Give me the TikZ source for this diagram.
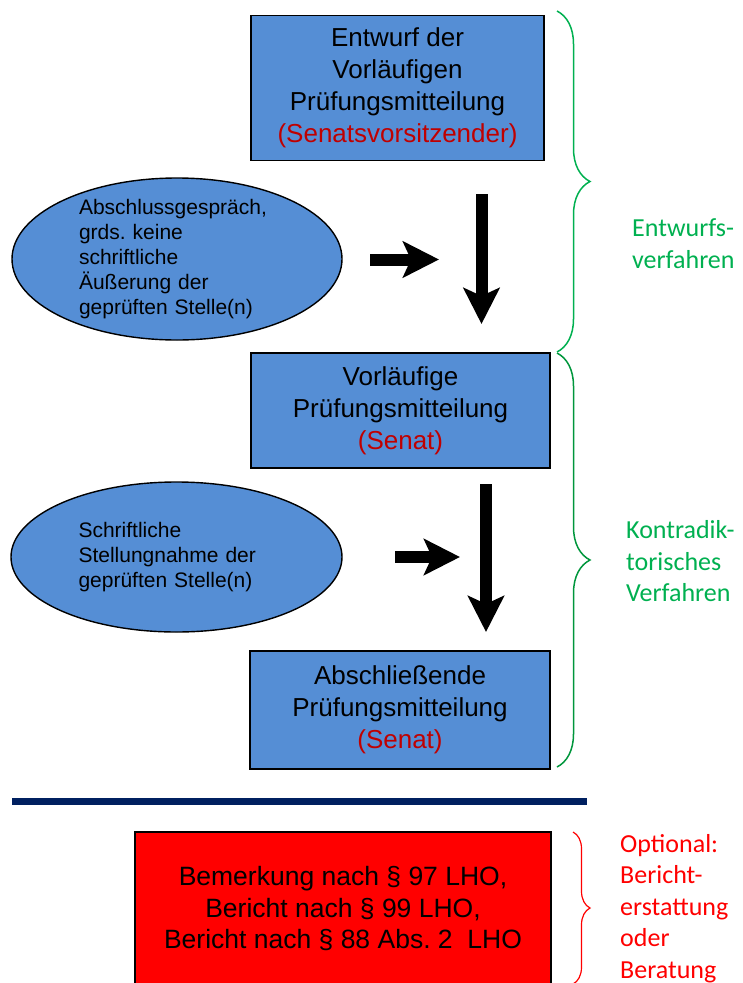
\documentclass[tikz,border=0pt]{standalone}
\usepackage{fontspec}
\setmainfont{Liberation Sans}
\newfontfamily\calibri{Carlito}
\usepackage{tikz}
\usetikzlibrary{shapes.geometric,arrows.meta,decorations.pathreplacing}
\definecolor{boxblue}{RGB}{85,142,213}
\definecolor{senatred}{RGB}{192,0,0}
\definecolor{entwurfc}{RGB}{0,176,80}
\definecolor{kontrac}{RGB}{0,150,60}
\definecolor{rulenavy}{RGB}{0,32,96}
\definecolor{optc}{RGB}{255,0,0}
\frenchspacing

\begin{document}
\begin{tikzpicture}[x=1pt,y=-1pt,
  pmbox/.style={draw=black,line width=1.4pt,fill=boxblue,align=center,inner sep=0pt,
    font=\fontsize{26}{32}\selectfont},
  bubble/.style={ellipse,draw=black,line width=1.4pt,fill=boxblue,inner sep=0pt},
  bubbletext/.style={align=left,text width=196pt,inner sep=0pt,font=\fontsize{21}{25}\selectfont},
  blockarrow/.style={line width=12pt,-{Stealth[length=36pt,width=36pt,inset=8pt]}},
  sidelabel/.style={anchor=west,align=left,inner sep=0pt,font=\calibri\fontsize{26}{31.5}\selectfont},
  sidebrace/.style={decorate,decoration={brace,amplitude=#1},line width=1.5pt}]
\useasboundingbox (0,0) rectangle (743,983);
% the three Pruefungsmitteilung boxes
\node[pmbox,minimum width=293pt,minimum height=145pt] (entwurf) at (397.5,88)
  {Entwurf der\\Vorläufigen\\Prüfungsmitteilung\\\textcolor{senatred}{(Senatsvorsitzender)}};
\node[pmbox,minimum width=299pt,minimum height=115pt] (vorl) at (400.5,410.5)
  {Vorläufige\\Prüfungsmitteilung\\\textcolor{senatred}{(Senat)}};
\node[pmbox,minimum width=300pt,minimum height=118pt] (abschl) at (400,710)
  {Abschließende\\Prüfungsmitteilung\\\textcolor{senatred}{(Senat)}};
% side input ellipses (text set separately, left aligned)
\node[bubble,minimum width=330pt,minimum height=162pt] (gespraech) at (177,259) {};
\node[bubbletext] (gespraechtxt) at (gespraech.center)
  {Abschlussgespräch,\\grds. keine\\schriftliche\\Äußerung der\\geprüften Stelle(n)};
\node[bubble,minimum width=331pt,minimum height=150pt] (stellung) at (176.5,557) {};
\node[bubbletext] (stellungtxt) at (stellung.center)
  {Schriftliche\\Stellungnahme der\\geprüften Stelle(n)};
% block arrows
\coordinate (h1s) at (370,259.5); \coordinate (h1e) at (439,259.5);
\coordinate (v1s) at (481.5,194); \coordinate (v1e) at (481.5,324);
\coordinate (h2s) at (395,557);   \coordinate (h2e) at (460,557);
\coordinate (v2s) at (486,484);   \coordinate (v2e) at (486,632);
\draw[blockarrow] (h1s) -- (h1e);
\draw[blockarrow] (v1s) -- (v1e);
\draw[blockarrow] (h2s) -- (h2e);
\draw[blockarrow] (v2s) -- (v2e);
% braces and phase labels
\draw[sidebrace=33pt,entwurfc] (557,11) -- (557,352);
\draw[sidebrace=33pt,kontrac] (557,353) -- (557,767);
\node[sidelabel,text=entwurfc] (lbentwurf) at (632,243.5) {Entwurfs-\\verfahren};
\node[sidelabel,text=entwurfc] (lbkontra) at (626,561.5) {Kontradik-\\torisches\\Verfahren};
% separator
\draw[rulenavy,line width=7pt] (12,801) -- (587,801);
% optional follow-up
\node[pmbox,fill=optc,minimum width=416pt,minimum height=153pt,font=\fontsize{26.5}{31.5}\selectfont] (bericht) at (343,908.5)
  {Bemerkung nach § 97 LHO,\\Bericht nach § 99 LHO,\\Bericht nach § 88 Abs. 2\ \ LHO};
\draw[sidebrace=17pt,optc,line width=1.2pt] (573,832) -- (573,984);
\node[sidelabel,text=optc] (lboptional) at (620,908.5) {Optional:\\Bericht-\\erstattung\\oder\\Beratung};
\end{tikzpicture}
\end{document}
